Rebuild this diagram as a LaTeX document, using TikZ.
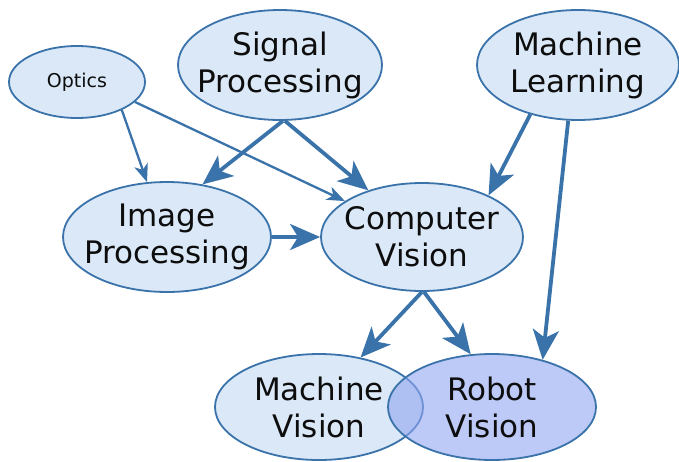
\documentclass[tikz,border=0pt]{standalone}
\usepackage{fontspec}
\setmainfont{DejaVu Sans}
\usetikzlibrary{shapes.geometric,arrows.meta}
\definecolor{edgeblue}{HTML}{3A72AA}
\definecolor{nodefill}{HTML}{DAE8F7}
\definecolor{robotfill}{HTML}{91A5F0}
\begin{document}
\begin{tikzpicture}[x=1pt,y=-1pt,
  ell/.style={ellipse, draw=edgeblue, line width=1.8pt, fill=nodefill, inner sep=0pt},
  txt/.style={align=center, font=\fontsize{31}{37}\selectfont, text=black!95, inner sep=0pt},
  smalltxt/.style={font=\fontsize{19}{22}\selectfont, text=black!95, inner sep=0pt},
  bigedge/.style={draw=edgeblue, line width=3.8pt, -{Stealth[length=30pt,width=26pt,inset=8pt]}},
  thinedge/.style={draw=edgeblue, line width=2.3pt, -{Stealth[length=18pt,width=14pt,inset=5pt]}}]
\useasboundingbox (0,0) rectangle (679,461);
\node[ell, minimum width=136pt, minimum height=72pt] (op) at (77,82) {};
\node[ell, minimum width=204pt, minimum height=110pt] (sp) at (280,65) {};
\node[ell, minimum width=202pt, minimum height=110pt] (ml) at (578,65) {};
\node[ell, minimum width=208pt, minimum height=110pt] (ip) at (167,237) {};
\node[ell, minimum width=202pt, minimum height=108pt] (cv) at (422,237) {};
\node[ell, minimum width=208pt, minimum height=106pt] (mv) at (319,407) {};
\node[ell, fill=robotfill, fill opacity=0.6, minimum width=208pt, minimum height=106pt] (rv) at (492,407) {};
\node[smalltxt] (opt) at (op) {Optics};
\node[txt] (spt) at (sp) {Signal\\Processing};
\node[txt] (mlt) at (ml) {Machine\\Learning};
\node[txt] (ipt) at (ip) {Image\\Processing};
\node[txt] (cvt) at (cv) {Computer\\Vision};
\node[txt] (mvt) at (mv) {Machine\\Vision};
\node[txt] (rvt) at (rv) {Robot\\Vision};
\draw[thinedge] (op.328) -- (ip.110);
\draw[thinedge] (op.341) -- (cv.155);
\draw[bigedge] (sp.273) -- (ip.56);
\draw[bigedge] (sp.275) -- (cv.139);
\draw[bigedge] (ml.226) -- (cv.32);
\draw[bigedge] (ml.260) -- (rv.43);
\draw[bigedge] (ip) -- (cv);
\draw[bigedge] (cv.270) -- (mv.50);
\draw[bigedge] (cv.272) -- (rv.112);
\end{tikzpicture}
\end{document}
